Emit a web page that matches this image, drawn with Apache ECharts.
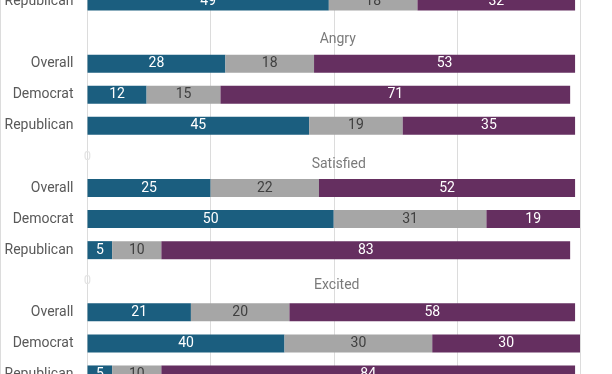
<!DOCTYPE html>
<html><head><meta charset="utf-8">
<script src="https://cdn.jsdelivr.net/npm/echarts@6/dist/echarts.min.js"></script>
<style>html,body{margin:0;padding:0;background:#fff;overflow:hidden}#c{position:absolute;left:0;top:-14px;width:612px;height:404px}</style>
</head><body><div id="c"></div>
<script>
// Rows top to bottom ('' = spacer row between question groups)
const categories = ['Republican', '', 'Overall', 'Democrat', 'Republican', '', 'Overall', 'Democrat', 'Republican', '', 'Overall', 'Democrat', 'Republican'];
// spacer rows: null = nothing drawn, 0 = faint zero label as in the reference
const series1 = [49, null, 28, 12, 45, 0, 25, 50, 5, 0, 21, 40, 5];
const series2 = [18, null, 18, 15, 19, null, 22, 31, 10, null, 20, 30, 10];
const series3 = [32, null, 53, 71, 35, null, 52, 19, 83, null, 58, 30, 84];
const groupTitles = ['Angry', 'Satisfied', 'Excited'];
const groupTitleRows = [1, 5, 9];
const xTicks = [0, 25, 50, 75, 100];

const FONT = 'Roboto';
const chart = echarts.init(document.getElementById('c'), null, {renderer: 'canvas'});

function seriesData(arr, zeroColor) {
  return arr.map(v => {
    if (v === null) return '-';
    if (v === 0) return {value: 0, label: {color: zeroColor, fontSize: 13}};
    return v;
  });
}
const titleOffsets = [[4, 7], [5, 8], [3, 4]];
const titleData = groupTitles.map((t, i) => ({
  value: [(xTicks[0] + xTicks[xTicks.length - 1]) / 2, groupTitleRows[i]],
  name: t,
  label: {offset: titleOffsets[i]}
}));

chart.setOption({
  animation: false,
  grid: {left: 87.5, right: 32, top: 0, bottom: 0, containLabel: false},
  xAxis: {
    type: 'value', min: xTicks[0], max: xTicks[xTicks.length - 1], interval: 25,
    axisLine: {show: false}, axisTick: {show: false}, axisLabel: {show: false},
    splitLine: {show: true, lineStyle: {color: '#dcdcdc', width: 1}}
  },
  yAxis: {
    type: 'category', inverse: true, data: categories,
    axisLine: {show: false}, axisTick: {show: false},
    axisLabel: {color: '#595959', fontSize: 14, fontFamily: FONT, margin: 14}
  },
  graphic: [{
    type: 'line', shape: {x1: 0.5, y1: 0, x2: 0.5, y2: 404},
    style: {stroke: '#dcdcdc', lineWidth: 1}
  }],
  series: [
    {
      name: 'A', type: 'bar', stack: 's', barWidth: 18,
      data: seriesData(series1, '#e3e3e3'),
      itemStyle: {color: '#1b5e7f'},
      label: {show: true, position: 'inside', color: '#ffffff', fontSize: 14, fontFamily: FONT}
    },
    {
      name: 'B', type: 'bar', stack: 's', barWidth: 18,
      data: seriesData(series2, '#e3e3e3'),
      itemStyle: {color: '#a6a6a6'},
      label: {show: true, position: 'inside', color: '#404040', fontSize: 14, fontFamily: FONT}
    },
    {
      name: 'C', type: 'bar', stack: 's', barWidth: 18,
      data: seriesData(series3, '#e3e3e3'),
      itemStyle: {color: '#652f60'},
      label: {show: true, position: 'inside', color: '#ffffff', fontSize: 14, fontFamily: FONT}
    },
    {
      name: 'titles', type: 'scatter', symbolSize: 0, silent: true,
      data: titleData,
      label: {show: true, position: 'inside', formatter: p => p.name, color: '#595959', fontSize: 14, fontFamily: FONT}
    }
  ]
});
</script></body></html>
